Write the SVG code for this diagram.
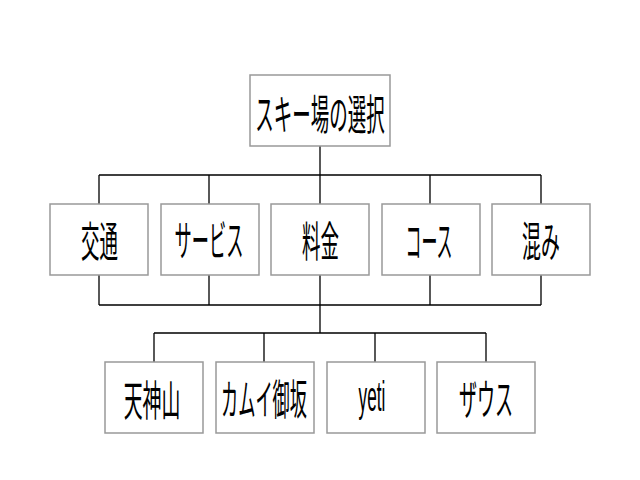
<svg xmlns="http://www.w3.org/2000/svg" width="640" height="480" viewBox="0 0 640 480">
<style>
.box{fill:#fff;stroke:#999;stroke-width:1.5}
.ln{fill:none;stroke:#000;stroke-width:1.3}
.t{font-family:"Noto Sans CJK JP","Noto Sans",sans-serif;font-size:42px;fill:#000;text-anchor:middle;dominant-baseline:central}
.y{font-family:"Liberation Sans",Arial,sans-serif;font-size:43px;fill:#000;text-anchor:middle}
</style>
<rect width="640" height="480" fill="#fff"/>
<g id="connectors">
<path class="ln" d="M320 146V175M99 175H541M99 175V204M209 175V204M320 175V204M430 175V204M541 175V204"/>
<path class="ln" d="M99 275V305M209 275V305M320 275V305M430 275V305M541 275V305M99 305H541"/>
<path class="ln" d="M320 305V333M154 333H486M154 333V362M264 333V362M375 333V362M486 333V362"/>
</g>
<g id="n0"><rect class="box" x="250" y="75" width="140" height="71"/><text class="t" transform="translate(320 111) scale(0.44 1)">スキー場の選択</text></g>
<g id="n1"><rect class="box" x="50" y="204" width="98" height="71"/><text class="t" transform="translate(99.5 238) scale(0.44 1)">交通</text></g>
<g id="n2"><rect class="box" x="161" y="204" width="98" height="71"/><text class="t" transform="translate(209 238) scale(0.41 1)">サービス</text></g>
<g id="n3"><rect class="box" x="271" y="204" width="98" height="71"/><text class="t" transform="translate(320.5 238) scale(0.44 1)">料金</text></g>
<g id="n4"><rect class="box" x="382" y="204" width="98" height="71"/><text class="t" transform="translate(429 238) scale(0.38 1)">コース</text></g>
<g id="n5"><rect class="box" x="492" y="204" width="98" height="71"/><text class="t" transform="translate(541 238) scale(0.45 1)">混み</text></g>
<g id="n6"><rect class="box" x="105" y="362" width="98" height="71"/><text class="t" transform="translate(152 397) scale(0.45 1)">天神山</text></g>
<g id="n7"><rect class="box" x="216" y="362" width="98" height="71"/><text class="t" transform="translate(264 397) scale(0.41 1)">カムイ御坂</text></g>
<g id="n8"><rect class="box" x="327" y="362" width="98" height="71"/><text class="y" transform="translate(372 411) scale(0.4 1)">yeti</text></g>
<g id="n9"><rect class="box" x="437" y="362" width="98" height="71"/><text class="t" transform="translate(486 397) scale(0.43 1)">ザウス</text></g>
</svg>
